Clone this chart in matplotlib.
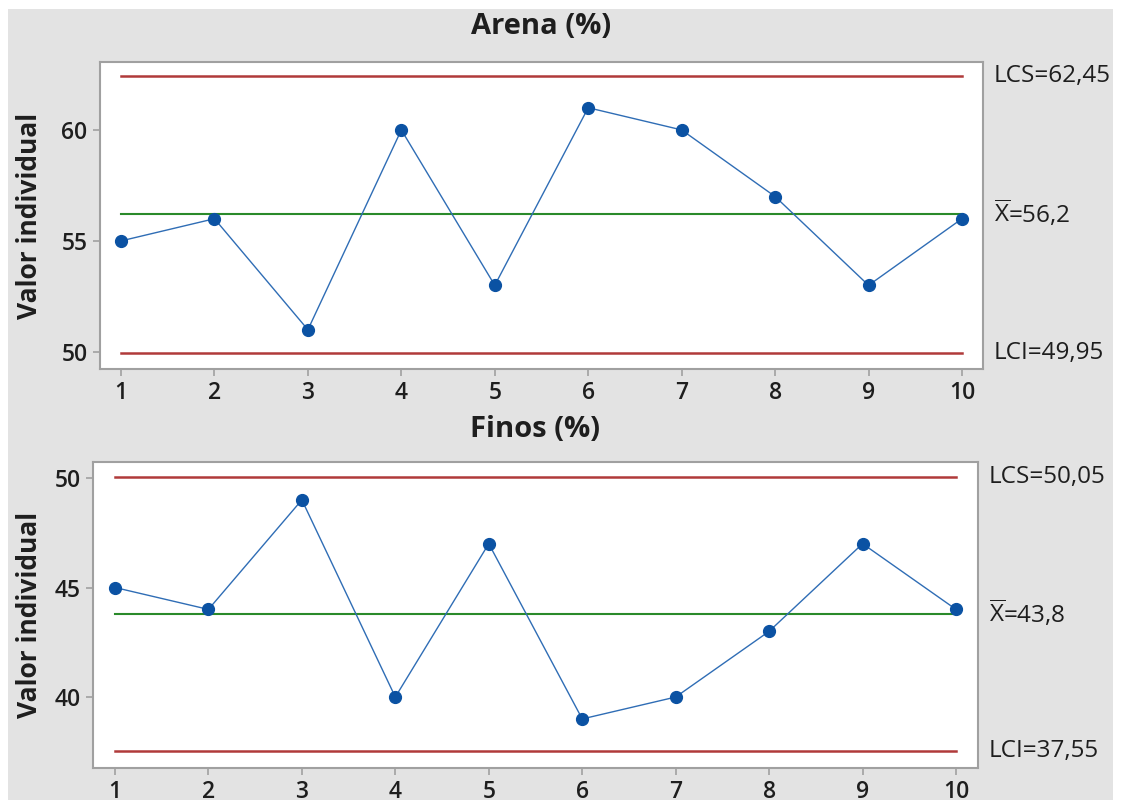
import matplotlib
matplotlib.use("Agg")
import matplotlib.pyplot as plt
from matplotlib.patches import Rectangle

plt.rcParams['font.family'] = ['Open Sans', 'DejaVu Sans']
plt.rcParams['mathtext.fontset'] = 'custom'
plt.rcParams['mathtext.rm'] = 'Open Sans'

samples = list(range(1, 11))
arena = [55, 56, 51, 60, 53, 61, 60, 57, 53, 56]
finos = [45, 44, 49, 40, 47, 39, 40, 43, 47, 44]

arena_limits = {"LCS": 62.45, "X": 56.2, "LCI": 49.95}
finos_limits = {"LCS": 50.05, "X": 43.8, "LCI": 37.55}
arena_yticks = [50, 55, 60]
finos_yticks = [40, 45, 50]

W, H = 1122, 800
fig = plt.figure(figsize=(W / 100, H / 100), dpi=100, facecolor='white')
fig.patches.append(Rectangle((8 / W, 0), (1113 - 8) / W, (H - 9) / H,
                             transform=fig.transFigure, facecolor='#e3e3e3',
                             edgecolor='none', zorder=-10))

def box(l, t, r, b):
    return [l / W, 1 - b / H, (r - l) / W, (b - t) / H]

ax1 = fig.add_axes(box(100, 62, 983, 369))
ax2 = fig.add_axes(box(93, 462, 978, 768))

red = '#b03a3a'
green = '#2a8a2a'
blue = '#2f6db5'
mk = '#0b52a3'
ink = '#1e1e1e'

def fmt(v):
    s = f"{v:g}"
    return s.replace('.', ',')

def draw(ax, title, values, lim, yticks, ylim, xlim, pad):
    ax.set_facecolor('white')
    ax.plot([samples[0], samples[-1]], [lim["LCS"]] * 2, color=red, lw=1.8)
    ax.plot([samples[0], samples[-1]], [lim["LCI"]] * 2, color=red, lw=1.8)
    ax.plot([samples[0], samples[-1]], [lim["X"]] * 2, color=green, lw=1.5)
    ax.plot(samples, values, color=blue, lw=1.0, marker='o', markersize=8.5,
            markerfacecolor=mk, markeredgecolor=mk, zorder=3)
    ax.set_xlim(*xlim)
    ax.set_ylim(*ylim)
    ax.set_xticks(samples)
    ax.set_yticks(yticks)
    for s in ax.spines.values():
        s.set_color('#a0a0a0')
        s.set_linewidth(1.5)
    ax.tick_params(colors='#a0a0a0', labelcolor=ink, labelsize=16.5,
                   length=5, width=1.2, pad=4)
    for lbl in ax.get_xticklabels() + ax.get_yticklabels():
        lbl.set_fontweight(600)
    ax.set_title(title, fontsize=21, fontweight='bold', color=ink, pad=pad)
    ax.set_ylabel("Valor individual", fontsize=19, fontweight='bold', color=ink)
    tr = ax.get_yaxis_transform()
    kw = dict(transform=tr, fontsize=17.5, va='center', ha='left', color=ink)
    ax.text(1.012, lim["LCS"], "LCS=" + fmt(lim["LCS"]), **kw)
    ax.text(1.012, lim["X"], r"$\overline{\mathrm{X}}$=" + fmt(lim["X"]), **kw)
    ax.text(1.012, lim["LCI"], "LCI=" + fmt(lim["LCI"]), **kw)

draw(ax1, "Arena (%)", arena, arena_limits, arena_yticks, (49.23, 63.06), (0.775, 10.225), 20)
draw(ax2, "Finos (%)", finos, finos_limits, finos_yticks, (36.76, 50.73), (0.765, 10.235), 18)
ax1.yaxis.set_label_coords(-(100 - 43) / 883, 0.5)
ax2.yaxis.set_label_coords(-(93 - 43) / 885, 0.5)

fig.savefig("out.png", dpi=100, facecolor='white')
